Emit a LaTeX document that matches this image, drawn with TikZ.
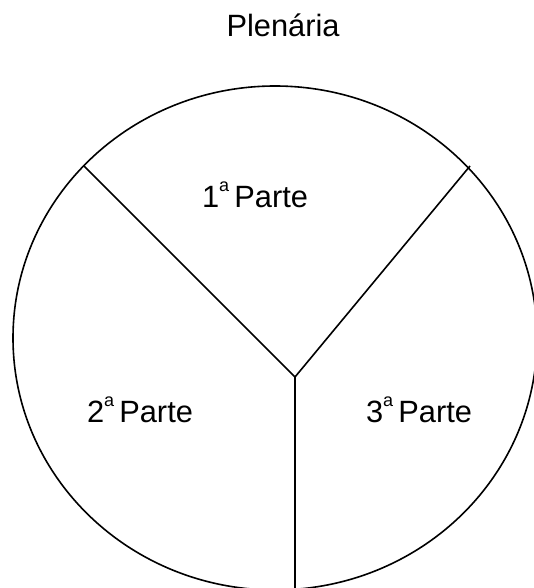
\documentclass[tikz,border=0pt]{standalone}
\usepackage{fontspec}
\setmainfont{Liberation Sans}
\usetikzlibrary{positioning}
\newcommand{\ordsup}[1]{\raisebox{0.5em}{\fontsize{18}{18}\selectfont #1}}
\tikzset{
  partlabel/.style={anchor=base, inner sep=0pt, font=\fontsize{30.8}{36}\selectfont},
  divider/.style={black, line width=1.6pt}
}

\begin{document}
\begin{tikzpicture}[x=1pt, y=-1pt]
\useasboundingbox (0.000000,0.000000) rectangle (534.000000,588.000000);
\clip (0.000000,0.000000) rectangle (534.000000,588.000000);
\fill [white] (0.000000,0.000000) rectangle (534.000000,588.000000);
\node (title) at (283.000000,37.000000) [partlabel] {Plenária};
\draw [divider] (275.000000,338.000000) ellipse [x radius=262pt, y radius=252pt];
\coordinate (hub) at (295.000000,377.000000);
\coordinate (nw) at (84.000000,166.000000);
\coordinate (ne) at (470.000000,166.000000);
\coordinate (s) at (295.000000,592.000000);
\draw [divider] (nw) -- (hub);
\draw [divider] (ne) -- (hub);
\draw [divider] (hub) -- (s);
\node (first) at (255.000000,207.000000) [partlabel] {1\ordsup{a}\,Parte};
\node (second) at (140.000000,422.000000) [partlabel] {2\ordsup{a}\,Parte};
\node (third) at (419.000000,422.000000) [partlabel] {3\ordsup{a}\,Parte};
\end{tikzpicture}
\end{document}
